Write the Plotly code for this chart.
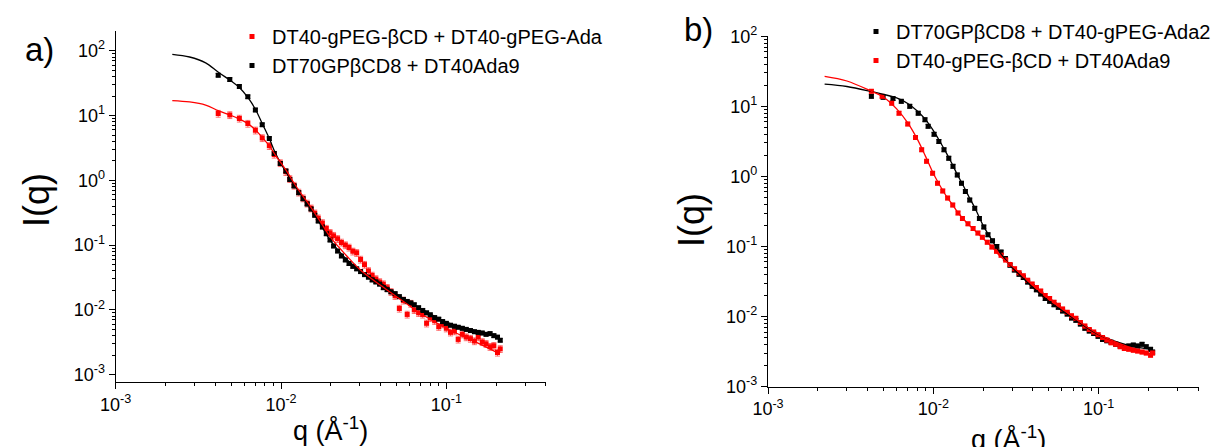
import plotly.graph_objects as go

# ---------------- Panel a data ----------------
a_q_black = [0.00417, 0.0049, 0.0056, 0.0063, 0.0070, 0.0077, 0.0085, 0.0091, 0.0099, 0.0107,
             0.0113, 0.0120, 0.0128, 0.0136, 0.0144, 0.0152, 0.0160, 0.0168, 0.0178, 0.0188,
             0.0198, 0.0208, 0.0220, 0.0232, 0.0245, 0.0258, 0.0272, 0.0287, 0.0303, 0.0320,
             0.0338, 0.0356, 0.0375, 0.0395, 0.0416, 0.0439, 0.0463, 0.049, 0.052, 0.055,
             0.058, 0.061, 0.064, 0.068, 0.072, 0.076, 0.080, 0.085, 0.090, 0.095,
             0.100, 0.106, 0.112, 0.118, 0.125, 0.132, 0.140, 0.148, 0.156, 0.165,
             0.174, 0.184, 0.194, 0.204, 0.212]
a_I_black = [42, 36, 28, 19.5, 12.2, 7.2, 4.4, 2.6, 1.82, 1.39,
             1.03, 0.82, 0.645, 0.52, 0.43, 0.36, 0.29, 0.235, 0.19, 0.15,
             0.12, 0.097, 0.081, 0.068, 0.059, 0.052, 0.047, 0.043, 0.039, 0.035,
             0.032, 0.029, 0.027, 0.025, 0.022, 0.0205, 0.019, 0.0178, 0.016, 0.0145,
             0.0135, 0.0128, 0.0120, 0.0108, 0.0098, 0.0090, 0.0084, 0.0076, 0.0072, 0.0066,
             0.0062, 0.0058, 0.0056, 0.0054, 0.0052, 0.0050, 0.0048, 0.0046, 0.0045, 0.0044,
             0.0042, 0.0043, 0.0040, 0.0038, 0.0034]

a_q_red = a_q_black
a_I_red = [10.7, 10.2, 9.0, 7.5, 5.9, 4.5, 3.4, 2.5, 1.85, 1.35,
           1.05, 0.83, 0.65, 0.53, 0.44, 0.37, 0.31, 0.26, 0.22, 0.18,
           0.155, 0.14, 0.125, 0.11, 0.10, 0.092, 0.080, 0.076, 0.060, 0.050,
           0.040, 0.034, 0.030, 0.027, 0.025, 0.022, 0.019, 0.0165, 0.0105, 0.0140,
           0.0085, 0.0125, 0.0100, 0.0090, 0.0085, 0.0062, 0.0075, 0.0068, 0.0055, 0.0060,
           0.0052, 0.0045, 0.0047, 0.0035, 0.0042, 0.0038, 0.0036, 0.0033, 0.0038, 0.0032,
           0.0030, 0.0027, 0.0028, 0.0022, 0.0025]

a_fit_q = [0.0022, 0.0028, 0.0035, 0.0042, 0.005, 0.0056, 0.0063, 0.007, 0.0077, 0.0085,
           0.0092, 0.010, 0.011, 0.012, 0.0135, 0.015, 0.0175, 0.020, 0.025, 0.030,
           0.040, 0.050, 0.070, 0.100, 0.150, 0.210]
a_fit_black = [88, 80, 65, 46, 34, 27, 19, 12.5, 7.5, 4.4,
               2.7, 1.8, 1.2, 0.85, 0.55, 0.38, 0.2, 0.115, 0.06, 0.041,
               0.026, 0.0175, 0.0105, 0.0065, 0.0048, 0.0039]
a_fit_red = [17, 16.2, 14.5, 11.8, 10, 8.8, 7.5, 6.0, 4.6, 3.4,
             2.5, 1.85, 1.3, 0.9, 0.58, 0.4, 0.22, 0.13, 0.068, 0.042,
             0.024, 0.016, 0.0088, 0.0052, 0.0032, 0.0021]

# ---------------- Panel b data ----------------
b_q = [0.00422, 0.00497, 0.0057, 0.0064, 0.0072, 0.0081, 0.0089, 0.0093, 0.0101, 0.0108,
       0.0116, 0.0124, 0.01315, 0.01396, 0.0148, 0.01563, 0.0166, 0.0178, 0.019, 0.0202,
       0.0214, 0.0228, 0.0242, 0.0257, 0.0273, 0.0291, 0.0309, 0.0330, 0.0350, 0.0372,
       0.0396, 0.0420, 0.0446, 0.0475, 0.0505, 0.0537, 0.0570, 0.0605, 0.0645, 0.0685,
       0.0728, 0.0775, 0.0825, 0.0877, 0.0933, 0.0992, 0.1055, 0.112, 0.119, 0.127,
       0.135, 0.143, 0.152, 0.162, 0.172, 0.183, 0.194, 0.206, 0.212]
b_I_black = [13.9, 13.5, 12.9, 11.8, 10.0, 8.0, 6.45, 5.2, 4.0, 3.16,
             2.4, 1.82, 1.39, 1.05, 0.80, 0.61, 0.46, 0.35, 0.25, 0.19,
             0.147, 0.12, 0.10, 0.083, 0.067, 0.054, 0.046, 0.040, 0.036, 0.031,
             0.027, 0.024, 0.021, 0.018, 0.0165, 0.0147, 0.0135, 0.0120, 0.0108, 0.0095,
             0.0088, 0.0078, 0.0068, 0.0062, 0.0057, 0.0052, 0.0047, 0.0045, 0.0043, 0.0040,
             0.0038, 0.0037, 0.0038, 0.0039, 0.0038, 0.0040, 0.0037, 0.0034, 0.0031]
b_q_red = [0.00422, 0.0049, 0.0056, 0.0062, 0.0070, 0.0078, 0.0085, 0.0091, 0.0099, 0.0106,
           0.0114, 0.0122, 0.0131, 0.0141, 0.0150, 0.0162, 0.0174, 0.0186, 0.0198, 0.0212,
           0.0226, 0.0241, 0.0257, 0.0274, 0.0291, 0.0310, 0.0330, 0.0350, 0.0372, 0.0396,
           0.0420, 0.0446, 0.0475, 0.0505, 0.0537, 0.0570, 0.0605, 0.0645, 0.0685, 0.0728,
           0.0775, 0.0825, 0.0877, 0.0933, 0.0992, 0.1055, 0.112, 0.119, 0.127, 0.135,
           0.143, 0.152, 0.162, 0.172, 0.183, 0.194, 0.206, 0.212]
b_I_red = [16.4, 13.9, 11.1, 8.0, 5.6, 3.6, 2.4, 1.64, 1.11, 0.80,
           0.62, 0.49, 0.39, 0.30, 0.25, 0.21, 0.18, 0.155, 0.135, 0.115,
           0.098, 0.085, 0.075, 0.064, 0.055, 0.048, 0.042, 0.038, 0.033, 0.029,
           0.026, 0.023, 0.020, 0.018, 0.016, 0.0145, 0.0128, 0.0115, 0.0102, 0.0094,
           0.0082, 0.0073, 0.0065, 0.0060, 0.0055, 0.0050, 0.0046, 0.0042, 0.0040, 0.0037,
           0.0035, 0.0034, 0.0033, 0.0032, 0.0031, 0.0030, 0.0028, 0.0030]

b_fit_q = [0.0022, 0.003, 0.0042, 0.005, 0.006, 0.007, 0.008, 0.009, 0.010, 0.011,
           0.012, 0.013, 0.014, 0.015, 0.0165, 0.018, 0.020, 0.0225, 0.025, 0.030,
           0.035, 0.040, 0.050, 0.070, 0.100, 0.150, 0.210]
b_fit_black = [20.8, 19.2, 16.3, 14.8, 13.2, 11.0, 8.6, 6.4, 4.5, 3.1,
               2.15, 1.5, 1.05, 0.78, 0.5, 0.34, 0.2, 0.125, 0.085, 0.05,
               0.035, 0.026, 0.0165, 0.0095, 0.0055, 0.0039, 0.0034]
b_fit_red = [26.8, 23, 16.5, 13.5, 9.2, 5.8, 3.4, 1.9, 1.1, 0.73,
             0.52, 0.40, 0.31, 0.255, 0.2, 0.165, 0.13, 0.1, 0.075, 0.052,
             0.038, 0.028, 0.0185, 0.0098, 0.0056, 0.0037, 0.0029]

legend_a = ["DT40-gPEG-βCD + DT40-gPEG-Ada", "DT70GPβCD8 + DT40Ada9"]
legend_b = ["DT70GPβCD8 + DT40-gPEG-Ada2", "DT40-gPEG-βCD + DT40Ada9"]

major_vals = [1e-3, 1e-2, 1e-1, 1e0, 1e1, 1e2]
major_text = ["10<sup>-3</sup>", "10<sup>-2</sup>", "10<sup>-1</sup>",
              "10<sup>0</sup>", "10<sup>1</sup>", "10<sup>2</sup>"]
minor_vals = [m * d for d in [1e-3, 1e-2, 1e-1, 1e0, 1e1] for m in range(2, 10)]

RED = "#ff0000"
BLACK = "#000000"
FONT = "Liberation Sans, Arial, sans-serif"

fig = go.Figure()

def data_trace(q, I, color, name, xa, ya, legend, err_pct, err_color):
    return go.Scatter(
        x=q, y=I, mode="markers", name=name,
        marker=dict(symbol="square", size=5, color=color, line=dict(width=0)),
        error_y=dict(type="percent", value=err_pct, color=err_color, thickness=1, width=2.5),
        xaxis=xa, yaxis=ya, legend=legend, showlegend=True,
    )

def fit_trace(q, I, color, xa, ya):
    return go.Scatter(
        x=q, y=I, mode="lines", line=dict(color=color, width=1.3, shape="spline"),
        xaxis=xa, yaxis=ya, showlegend=False, hoverinfo="skip",
    )

fig.add_trace(data_trace(a_q_red, a_I_red, RED, legend_a[0], "x", "y", "legend", 12, "rgba(255,0,0,0.55)"))
fig.add_trace(data_trace(a_q_black, a_I_black, BLACK, legend_a[1], "x", "y", "legend", 6, "rgba(0,0,0,0.8)"))
fig.add_trace(fit_trace(a_fit_q, a_fit_black, BLACK, "x", "y"))
fig.add_trace(fit_trace(a_fit_q, a_fit_red, RED, "x", "y"))

fig.add_trace(data_trace(b_q, b_I_black, BLACK, legend_b[0], "x2", "y2", "legend2", 6, "rgba(0,0,0,0.8)"))
fig.add_trace(data_trace(b_q_red, b_I_red, RED, legend_b[1], "x2", "y2", "legend2", 6, "rgba(255,0,0,0.6)"))
fig.add_trace(fit_trace(b_fit_q, b_fit_black, BLACK, "x2", "y2"))
fig.add_trace(fit_trace(b_fit_q, b_fit_red, RED, "x2", "y2"))

W, H = 1222, 447

def axis_common():
    return dict(
        type="log", showgrid=False, zeroline=False, showline=True, linecolor="black",
        linewidth=1.3, ticks="outside", ticklen=6, tickwidth=1.2, tickcolor="black",
        tickmode="array", tickvals=major_vals, ticktext=major_text,
        tickfont=dict(family=FONT, size=18, color="black"),
        minor=dict(ticks="outside", ticklen=3, tickwidth=1, tickcolor="black",
                   tickmode="array", tickvals=minor_vals, showgrid=False),
        automargin=False, mirror=False,
    )

xa = axis_common(); xa.update(domain=[107.7 / W, 538.3 / W], range=[-3, -0.395], anchor="y")
ya = axis_common(); ya.update(domain=[1 - 374 / H, 1 - 22.7 / H], range=[-3.113, 2.309], anchor="x")
xb = axis_common(); xb.update(domain=[760 / W, 1190.7 / W], range=[-3, -0.395], anchor="y2")
yb = axis_common(); yb.update(domain=[1 - 378.5 / H, 1 - 28.3 / H], range=[-3, 2], anchor="x2")

annotations = [
    dict(text="a)", x=31 / W, y=1 - 42 / H, xref="paper", yref="paper", showarrow=False,
         font=dict(family=FONT, size=33, color="black"), xanchor="center", yanchor="middle"),
    dict(text="b)", x=690 / W, y=1 - 21 / H, xref="paper", yref="paper", showarrow=False,
         font=dict(family=FONT, size=33, color="black"), xanchor="center", yanchor="middle"),
    dict(text="I(q)", x=28 / W, y=1 - 192 / H, xref="paper", yref="paper", showarrow=False,
         textangle=-90, font=dict(family=FONT, size=36, color="black"), xanchor="center", yanchor="middle"),
    dict(text="I(q)", x=683 / W, y=1 - 212 / H, xref="paper", yref="paper", showarrow=False,
         textangle=-90, font=dict(family=FONT, size=36, color="black"), xanchor="center", yanchor="middle"),
    dict(text="q (Å<sup>-1</sup>)", x=322 / W, y=1 - 421 / H, xref="paper", yref="paper", showarrow=False,
         font=dict(family=FONT, size=27, color="black"), xanchor="center", yanchor="middle"),
    dict(text="q (Å<sup>-1</sup>)", x=1000 / W, y=1 - 430 / H, xref="paper", yref="paper", showarrow=False,
         font=dict(family=FONT, size=27, color="black"), xanchor="center", yanchor="middle"),
]

legend_style = dict(
    xref="paper", yref="paper", xanchor="left", yanchor="top",
    bgcolor="rgba(0,0,0,0)", borderwidth=0,
    font=dict(family=FONT, size=20, color="black"),
    itemsizing="trace", tracegroupgap=0,
)

leg_a = dict(legend_style); leg_a.update(x=224 / W, y=1 - 9 / H)
leg_b = dict(legend_style); leg_b.update(x=848 / W, y=1 - 4 / H)

fig.update_layout(
    width=W, height=H,
    margin=dict(l=0, r=0, t=0, b=0, autoexpand=False),
    paper_bgcolor="white", plot_bgcolor="white",
    xaxis=xa, yaxis=ya, xaxis2=xb, yaxis2=yb,
    annotations=annotations,
    legend=leg_a, legend2=leg_b,
    showlegend=True,
)

fig.write_html("out.html")
